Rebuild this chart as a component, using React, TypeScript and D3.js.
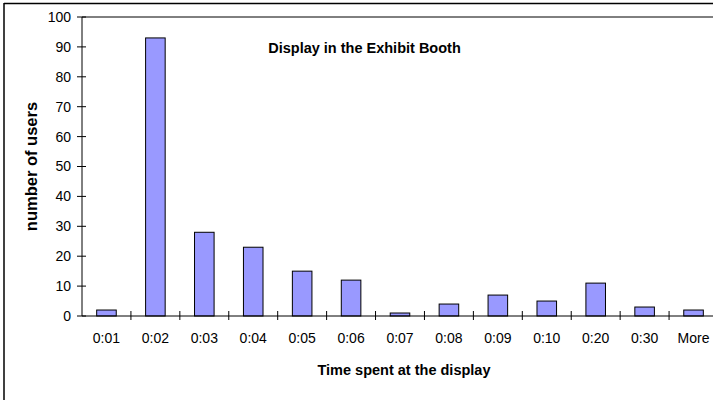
import React from "react";
import * as d3 from "d3";

const categories = ["0:01", "0:02", "0:03", "0:04", "0:05", "0:06", "0:07", "0:08", "0:09", "0:10", "0:20", "0:30", "More"];
const users = [2, 93, 28, 23, 15, 12, 1, 4, 7, 5, 11, 3, 2];
const yTicks = [0, 10, 20, 30, 40, 50, 60, 70, 80, 90, 100];
const title = "Display in the Exhibit Booth";
const xTitle = "Time spent at the display";
const yTitle = "number of users";

export default function App() {
  const W = 713, H = 400;
  const left = 82, right = 718, top = 17, bottom = 316;
  const x = d3.scaleBand<string>().domain(categories).range([left, right]);
  const y = d3.scaleLinear().domain([0, 100]).range([bottom, top]);
  const bw = x.bandwidth();
  const barW = bw * 0.4;
  const font = "Liberation Sans, Arial, sans-serif";
  return (
    <svg width={W} height={H} style={{ position: "absolute", left: 0, top: 0 }} fontFamily={font}>
      <rect x={0} y={0} width={W} height={H} fill="#fff" />
      {/* outer chart border */}
      <line x1={4} y1={3.5} x2={W} y2={3.5} stroke="#000" strokeWidth={1.5} />
      <line x1={4} y1={3} x2={4} y2={H} stroke="#000" strokeWidth={1.5} />
      {/* plot area top border */}
      <line x1={left} y1={top} x2={W} y2={top} stroke="#000" strokeWidth={1} />
      {/* bars */}
      {users.map((v, i) => {
        const cx = (x(categories[i]) as number) + bw / 2;
        return (
          <rect key={i} x={cx - barW / 2} y={y(v)} width={barW} height={bottom - y(v)}
            fill="#9999ff" stroke="#000" strokeWidth={1} />
        );
      })}
      {/* y axis */}
      <line x1={left} y1={top} x2={left} y2={bottom} stroke="#000" strokeWidth={1} />
      {yTicks.map((t) => (
        <g key={t}>
          <line x1={left - 5} x2={left + 4} y1={y(t)} y2={y(t)} stroke="#000" strokeWidth={1} />
          <text x={left - 11} y={y(t)} dy="0.35em" textAnchor="end" fontSize={14}>{t}</text>
        </g>
      ))}
      {/* x axis */}
      <line x1={left} y1={bottom} x2={W} y2={bottom} stroke="#000" strokeWidth={1} />
      {categories.map((c, i) => (
        <g key={c}>
          {i > 0 && <line x1={x(c)} x2={x(c)} y1={bottom - 5} y2={bottom + 4} stroke="#000" strokeWidth={1} />}
          <text x={(x(c) as number) + bw / 2} y={343} textAnchor="middle" fontSize={14}>{c}</text>
        </g>
      ))}
      <text x={364.5} y={53} textAnchor="middle" fontSize={14.5} fontWeight="bold">{title}</text>
      <text x={404} y={375} textAnchor="middle" fontSize={14.5} fontWeight="bold">{xTitle}</text>
      <text transform={`translate(37,166.5) rotate(-90)`} textAnchor="middle" fontSize={16.5} fontWeight="bold">{yTitle}</text>
    </svg>
  );
}
